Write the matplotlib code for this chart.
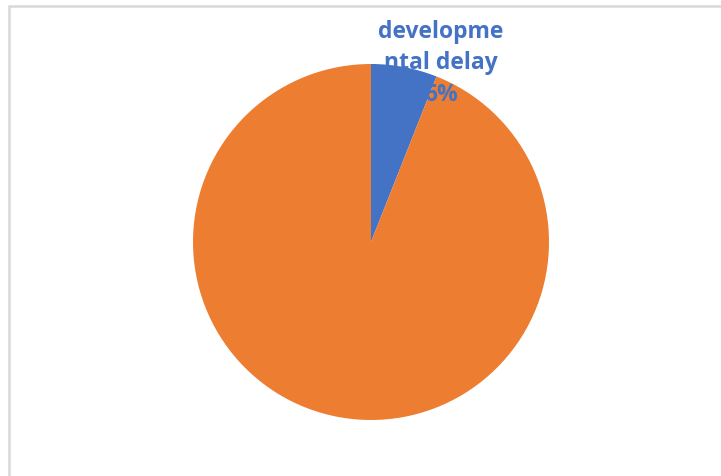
import matplotlib
matplotlib.use("Agg")
import matplotlib.pyplot as plt
from matplotlib.patches import Rectangle

categories = ["developmental delay", "other"]
values = [6, 94]
labels_shown = ["developme\nntal delay\n6%", None]
colors = ["#4472C4", "#ED7D31"]

W, H = 721, 476
fig = plt.figure(figsize=(W / 100, H / 100), dpi=100)
fig.patch.set_facecolor("white")

# chart border (only left and top visible)
fig.patches.append(Rectangle((8.5 / W, -0.1), 1.5, (H - 5.5) / H + 0.1,
                             transform=fig.transFigure, fill=False,
                             edgecolor="#D9D9D9", linewidth=1.8))

cx, cy, r = 371, 242, 178
ax = fig.add_axes([(cx - r) / W, (H - cy - r) / H, 2 * r / W, 2 * r / H])
wedges, _ = ax.pie(values, colors=colors, startangle=90, counterclock=False,
                   radius=1.0, wedgeprops=dict(linewidth=0))
ax.set_xlim(-1, 1)
ax.set_ylim(-1, 1)
ax.set_aspect("equal")
ax.axis("off")

ax.text(0.393, 1.003, labels_shown[0], ha="center", va="center",
        fontsize=16.5, fontweight="bold", color=colors[0],
        family="Open Sans", linespacing=1.42, clip_on=False, zorder=5)

fig.savefig("out.png", dpi=100)
